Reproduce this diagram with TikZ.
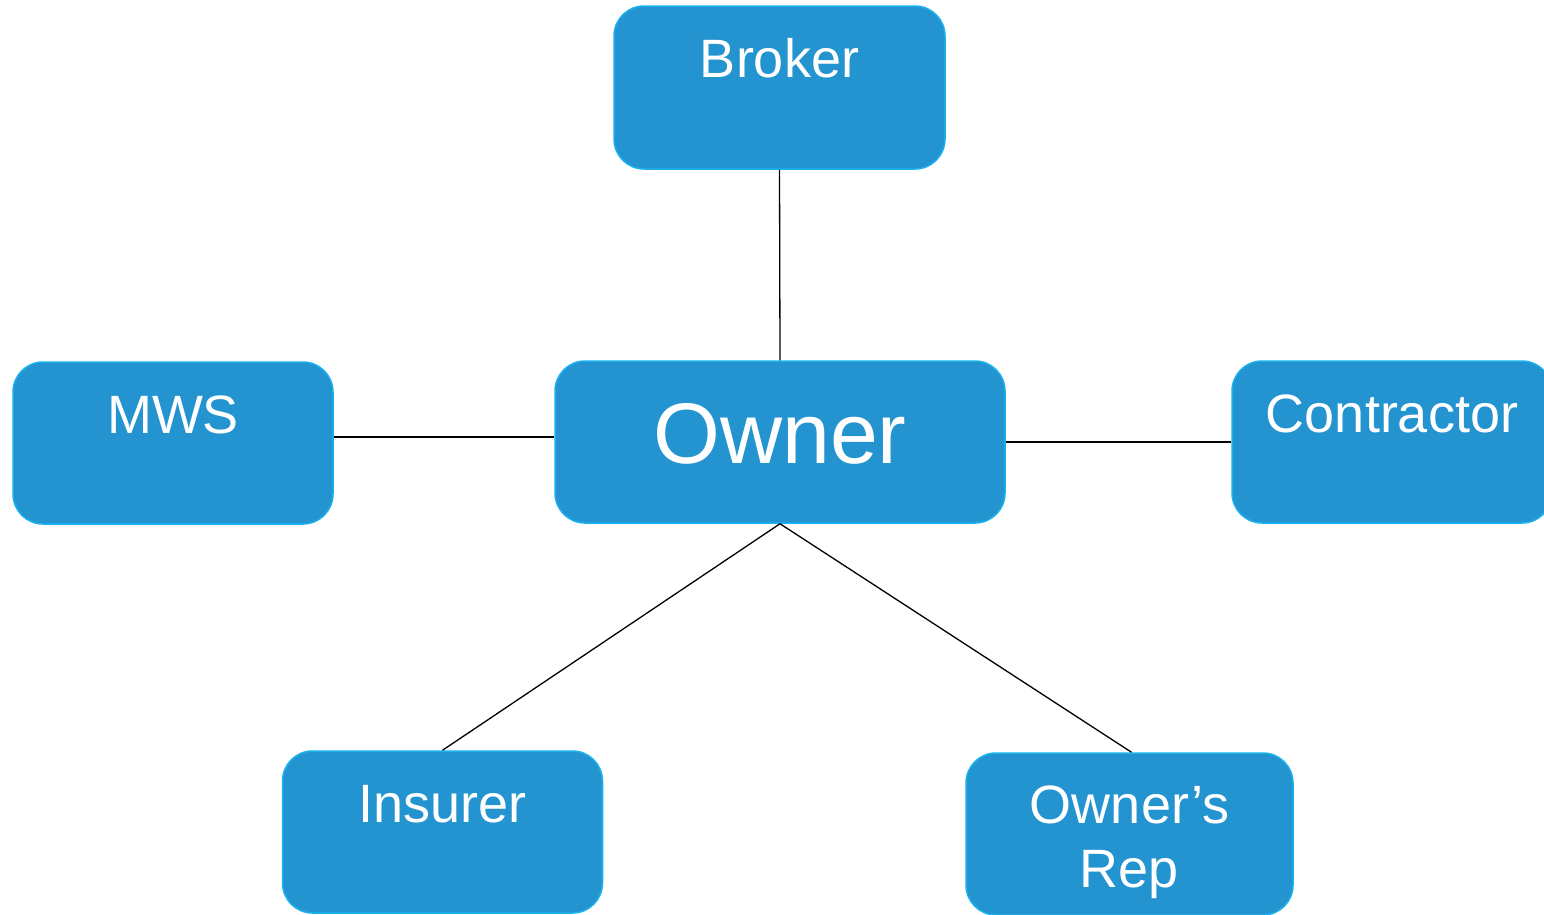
\documentclass[tikz,border=0pt]{standalone}
\usepackage{fontspec}
\setmainfont{Liberation Sans}
\definecolor{partyfill}{HTML}{2494D1}
\definecolor{partyline}{HTML}{1AB2EE}

\begin{document}
\begin{tikzpicture}[x=1pt, y=-1pt,
    party/.style={rectangle, rounded corners=30pt, fill=partyfill, draw=partyline, line width=1.5pt,
      text=white, minimum width=320pt, inner xsep=4pt, inner ysep=0pt,
      text height=71pt, text depth=91pt, font=\fontsize{54}{64}\selectfont},
    tie/.style={black, line width=1.3pt}]
    \useasboundingbox (0,0) rectangle (1544,914);
    % Parties
    \node[party, minimum width=450pt, text height=102pt, text depth=60pt, font=\fontsize{86}{100}\selectfont] (owner) at (780,442) {Owner};
    \node[party, minimum width=331pt, text depth=92pt] (broker) at (779.5,87.5) {Broker};
    \node[party] (mws) at (173,443) {MWS};
    \node[party] (contractor) at (1392,442) {Contractor};
    \node[party] (insurer) at (442.5,832) {Insurer};
    \node[party, minimum width=327pt, align=center, text height=134pt, text depth=28pt] (rep) at (1129.5,834) {Owner’s\\Rep};

    % Ties to the owner
    \draw[tie] (broker.south) -- (owner.north);
    \draw[tie] ([yshift=5pt]owner.west) -- ([yshift=5pt]owner.west -| mws.east);
    \draw[tie] (owner.east) -- (contractor.west);
    \draw[tie] (owner.south) -- (insurer.north);
    \draw[tie] (owner.south) -- ([xshift=2pt]rep.north);
\end{tikzpicture}
\end{document}
